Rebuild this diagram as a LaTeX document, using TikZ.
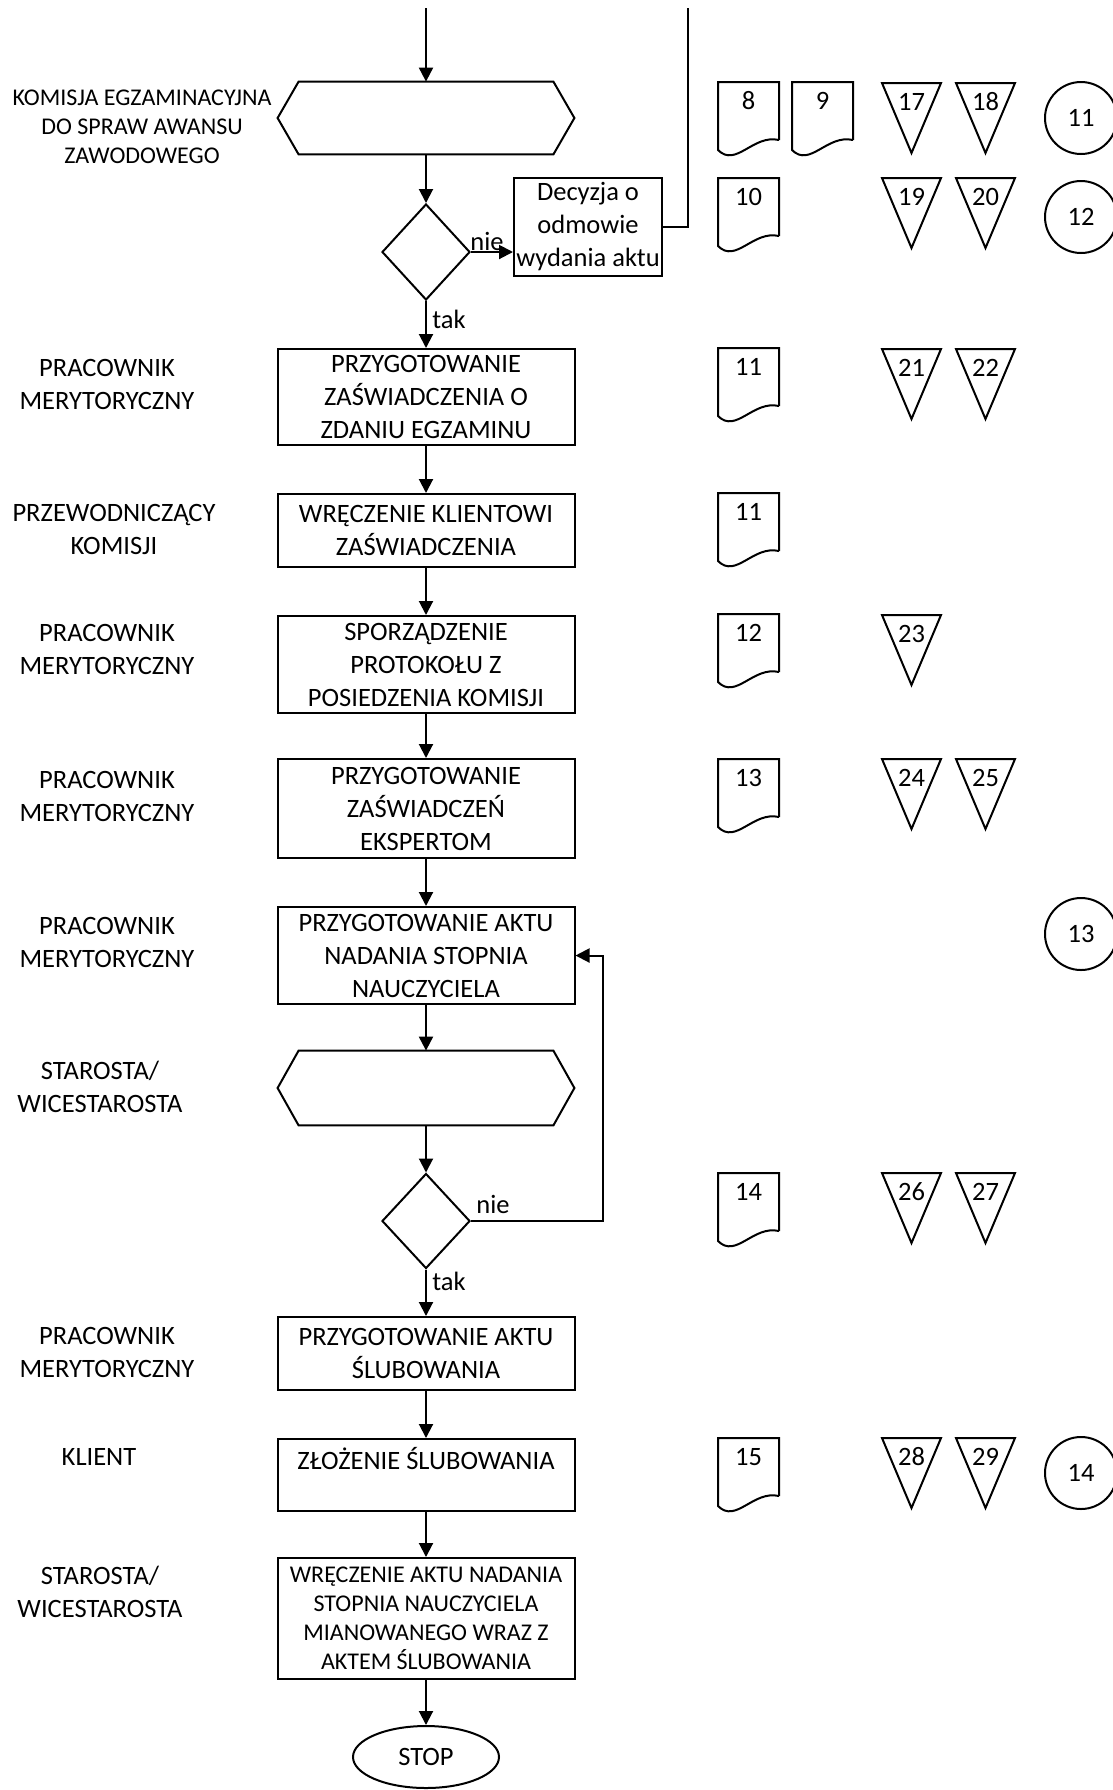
\documentclass[tikz,border=0pt]{standalone}
\usepackage{fontspec}
\setmainfont{Carlito}
\usetikzlibrary{shapes.geometric,arrows.meta}
\newcommand\mainf{\fontsize{13.25}{16.5}\selectfont}
\newcommand\smallf{\fontsize{12}{14.5}\selectfont}
\tikzset{
  shp/.style={draw=black,line width=1pt},
  box/.style={shp,rectangle,minimum width=148.5pt,align=center,inner sep=2pt,font=\mainf},
  lane/.style={align=center,inner sep=0pt,font=\mainf},
  num/.style={inner sep=0pt,font=\mainf},
  lbl/.style={inner sep=0pt,font=\mainf},
  conn/.style={line width=1pt},
  arr/.style={line width=1pt,-{Triangle[length=7pt,width=7pt]}},
}
\newcommand\mydoc[4]{%
  \draw[shp,line join=miter] (#1+61,#2+58) -- (#1+61,#2) -- (#1,#2) -- (#1,#2+68)
     .. controls (#1+18,#2+86) and (#1+35,#2+52) .. (#1+61,#2+58);
  \node[num] (#4) at (#1+30.5,#2+19) {#3};}
\newcommand\mytri[4]{%
  \draw[shp,line join=miter] (#1,#2) -- (#1+59,#2) -- (#1+29.5,#2+70) -- cycle;
  \node[num] (#4) at (#1+29.5,#2+19) {#3};}
\begin{document}
\begin{tikzpicture}[x=0.5pt,y=-0.5pt]
\fill[white] (0,0) rectangle (1113,1790);
\useasboundingbox (0,0) rectangle (1113,1790);

% lane labels
\node[lane,font=\smallf] (l0) at (142,127) {KOMISJA EGZAMINACYJNA\\DO SPRAW AWANSU\\ZAWODOWEGO};
\node[lane] (l1) at (107,384) {PRACOWNIK\\MERYTORYCZNY};
\node[lane] (l2) at (114,529) {PRZEWODNICZĄCY\\KOMISJI};
\node[lane] (l3) at (107,649) {PRACOWNIK\\MERYTORYCZNY};
\node[lane] (l4) at (107,796) {PRACOWNIK\\MERYTORYCZNY};
\node[lane] (l5) at (107,942) {PRACOWNIK\\MERYTORYCZNY};
\node[lane] (l6) at (100,1087) {STAROSTA/\\WICESTAROSTA};
\node[lane] (l7) at (107,1352) {PRACOWNIK\\MERYTORYCZNY};
\node[lane] (l8) at (99,1457) {KLIENT};
\node[lane] (l9) at (100,1592) {STAROSTA/\\WICESTAROSTA};

% hexagons
\node[minimum width=148pt,minimum height=36pt,inner sep=0pt] (h1) at (426,118) {};
\draw[shp,line join=miter] (h1.west) -- ([xshift=10.5pt]h1.north west) -- ([xshift=-10.5pt]h1.north east) -- (h1.east) -- ([xshift=-10.5pt]h1.south east) -- ([xshift=10.5pt]h1.south west) -- cycle;
\node[minimum width=148pt,minimum height=37pt,inner sep=0pt] (h2) at (426,1088) {};
\draw[shp,line join=miter] (h2.west) -- ([xshift=10.5pt]h2.north west) -- ([xshift=-10.5pt]h2.north east) -- (h2.east) -- ([xshift=-10.5pt]h2.south east) -- ([xshift=10.5pt]h2.south west) -- cycle;

% diamonds
\node[shp,diamond,minimum width=44pt,minimum height=48pt,inner sep=0pt] (d1) at (426,252) {};
\node[shp,diamond,minimum width=44pt,minimum height=47.5pt,inner sep=0pt] (d2) at (426,1221) {};

% decision box
\node[shp,align=center,inner sep=1pt,minimum width=74pt,minimum height=49pt,font=\mainf] (dec) at (588,227) {Decyzja o\\odmowie\\wydania aktu};

% process boxes
\node[box,minimum height=48pt] (b1) at (426,397) {PRZYGOTOWANIE\\ZAŚWIADCZENIA O\\ZDANIU EGZAMINU};
\node[box,minimum height=36.5pt] (b2) at (426,530.5) {WRĘCZENIE KLIENTOWI\\ZAŚWIADCZENIA};
\node[box,minimum height=48.5pt] (b3) at (426,664.5) {SPORZĄDZENIE\\PROTOKOŁU Z\\POSIEDZENIA KOMISJI};
\node[box,minimum height=49.5pt] (b4) at (426,808.5) {PRZYGOTOWANIE\\ZAŚWIADCZEŃ\\EKSPERTOM};
\node[box,minimum height=48.5pt] (b5) at (426,955.5) {PRZYGOTOWANIE AKTU\\NADANIA STOPNIA\\NAUCZYCIELA};
\node[box,minimum height=36.5pt] (b6) at (426,1353.5) {PRZYGOTOWANIE AKTU\\ŚLUBOWANIA};
\node[box,minimum height=36pt] (b7) at (426,1475) {ZŁOŻENIE ŚLUBOWANIA\\~};
\node[box,minimum height=60.5pt,font=\smallf] (b8) at (426,1618.5) {WRĘCZENIE AKTU NADANIA\\STOPNIA NAUCZYCIELA\\MIANOWANEGO WRAZ Z\\AKTEM ŚLUBOWANIA};
\node[shp,ellipse,minimum width=73pt,minimum height=31pt,inner sep=0pt,font=\mainf] (stop) at (426,1757) {STOP};

% connectors
\coordinate (top1) at (426,8);
\coordinate (top2) at (688,8);
\draw[arr] (top1) -- (h1.north);
\draw[conn] (dec.east) -| (top2);
\draw[arr] (h1.south) -- (d1.north);
\draw[arr] (d1.east) -- (d1.east -| dec.west);
\draw[arr] (d1.south) -- (b1.north);
\draw[arr] (b1.south) -- (b2.north);
\draw[arr] (b2.south) -- (b3.north);
\draw[arr] (b3.south) -- (b4.north);
\draw[arr] (b4.south) -- (b5.north);
\draw[arr] (b5.south) -- (h2.north);
\draw[arr] (h2.south) -- (d2.north);
\draw[arr] (d2.south) -- (b6.north);
\draw[arr] (b6.south) -- (b7.north);
\draw[arr] (b7.south) -- (b8.north);
\draw[arr] (b8.south) -- (stop.north);
\draw[arr] (d2.east) -| ([xshift=13.5pt]b5.east) -- (b5.east);

\node[lbl] (nie1) at (487,241) {nie};
\node[lbl] (tak1) at (449,319) {tak};
\node[lbl] (nie2) at (493,1204) {nie};
\node[lbl] (tak2) at (449,1281) {tak};

% right-side symbols
\mydoc{718}{82}{8}{doc8}
\mydoc{792}{82}{9}{doc9}
\mytri{882}{83}{17}{tr17}
\mytri{956}{83}{18}{tr18}
\node[shp,circle,minimum size=36pt,inner sep=0pt,font=\mainf] (c11) at (1081,118) {11};

\mydoc{718}{178}{10}{doc10}
\mytri{882}{178}{19}{tr19}
\mytri{956}{178}{20}{tr20}
\node[shp,circle,minimum size=36pt,inner sep=0pt,font=\mainf] (c12) at (1081,217) {12};

\mydoc{718}{348}{11}{doc11a}
\mytri{882}{349}{21}{tr21}
\mytri{956}{349}{22}{tr22}

\mydoc{718}{493}{11}{doc11b}

\mydoc{718}{614}{12}{doc12}
\mytri{882}{615}{23}{tr23}

\mydoc{718}{759}{13}{doc13}
\mytri{882}{759}{24}{tr24}
\mytri{956}{759}{25}{tr25}

\node[shp,circle,minimum size=36pt,inner sep=0pt,font=\mainf] (c13) at (1081,934) {13};

\mydoc{718}{1173}{14}{doc14}
\mytri{882}{1173}{26}{tr26}
\mytri{956}{1173}{27}{tr27}

\mydoc{718}{1438}{15}{doc15}
\mytri{882}{1438}{28}{tr28}
\mytri{956}{1438}{29}{tr29}
\node[shp,circle,minimum size=36pt,inner sep=0pt,font=\mainf] (c14) at (1081,1473) {14};
\end{tikzpicture}
\end{document}
